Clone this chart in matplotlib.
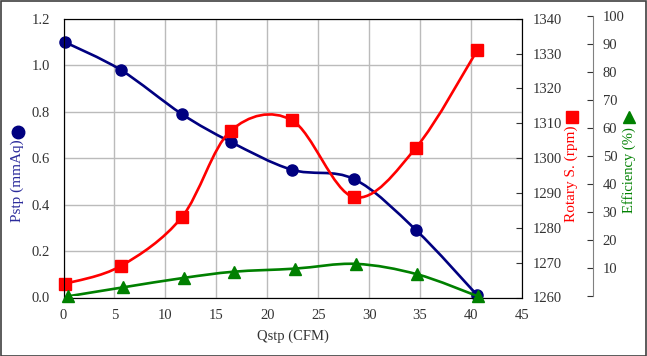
import numpy as np
import matplotlib
matplotlib.use('Agg')
import matplotlib.pyplot as plt
from matplotlib.path import Path
from matplotlib.patches import PathPatch, Rectangle

# data
q = [0.1, 5.6, 11.6, 16.4, 22.4, 28.5, 34.6, 40.6]
q_eff = [0.4, 5.8, 11.8, 16.7, 22.7, 28.7, 34.7, 40.7]
pstp = [1.10, 0.98, 0.79, 0.67, 0.55, 0.51, 0.29, 0.01]
rpm = [1263.9, 1269.0, 1283.0, 1307.8, 1310.9, 1288.8, 1303.0, 1330.9]
eff = [0.0, 3.2, 6.6, 8.8, 9.9, 11.6, 7.9, 0.0]

blue = '#000080'
red = '#FF0000'
green = '#008000'
txt = '#333333'

plt.rcParams['font.family'] = ['Liberation Serif', 'DejaVu Serif']


def smooth(x, y):
    # excel style smoothed line (catmull-rom as bezier)
    p = np.column_stack([x, y]).astype(float)
    pts = [p[0]]
    codes = [Path.MOVETO]
    n = len(p)
    for i in range(n - 1):
        p0 = p[i - 1] if i > 0 else p[i]
        p3 = p[i + 2] if i + 2 < n else p[i + 1]
        c1 = p[i] + (p[i + 1] - p0) / 6
        c2 = p[i + 1] - (p3 - p[i]) / 6
        pts += [c1, c2, p[i + 1]]
        codes += [Path.CURVE4] * 3
    return Path(pts, codes)


W, H = 647, 356
fig = plt.figure(figsize=(W / 100, H / 100), dpi=100)
fig.patches.append(Rectangle((0.5 / W, 0.5 / H), 1 - 1.5 / W, 1 - 1.5 / H,
                             transform=fig.transFigure, fill=False,
                             edgecolor='#404040', lw=1.2))

left, right = 63.5 / W, 522 / W
bot, top = (H - 297.5) / H, (H - 18.7) / H
ax = fig.add_axes([left, bot, right - left, top - bot])
ax2 = ax.twinx()

ax.set_xlim(0, 45)
ax.set_ylim(0, 1.2)
ax.set_xticks(np.arange(0, 46, 5))
ax.set_yticks(np.arange(0, 1.21, 0.2))
ax.set_yticklabels(['%.1f' % v for v in np.arange(0, 1.21, 0.2)])
ax.grid(True, color='#BBBBBB', lw=1)
ax.set_axisbelow(True)
ax.tick_params(axis='both', length=0, labelsize=10.5, colors=txt)
ax.tick_params(axis='y', pad=10)
ax.tick_params(axis='x', pad=8)
for s in ax.spines.values():
    s.set_color('#404040')
ax.set_xlabel('Qstp (CFM)', fontsize=10.5, color=txt, labelpad=6)

ax.add_patch(PathPatch(smooth(q, pstp), fc='none', ec=blue, lw=1.9))
ax.plot(q, pstp, ls='none', marker='o', ms=8, color=blue, clip_on=False)

ax2.set_ylim(1260, 1340)
ax2.set_yticks(np.arange(1260, 1341, 10))
ax2.tick_params(axis='y', direction='in', length=4, labelsize=10.5,
                colors=txt, pad=8)
ax2.add_patch(PathPatch(smooth(q, rpm), fc='none', ec=red, lw=1.9))
ax2.plot(q, rpm, ls='none', marker='s', ms=8.5, color=red, clip_on=False)

eb, et = (H - 296.4) / H, (H - 16) / H
ax3 = fig.add_axes([left, eb, right - left, et - eb], sharex=ax)
ax3.patch.set_visible(False)
for k in ['left', 'top', 'bottom']:
    ax3.spines[k].set_visible(False)
ax3.spines['right'].set_position(('axes', (593 - 63.5) / (522 - 63.5)))
ax3.spines['right'].set_color('#808080')
ax3.yaxis.set_ticks_position('right')
ax3.xaxis.set_visible(False)
ax3.set_ylim(0, 100)
ax3.set_yticks(np.arange(0, 101, 10))
ax3.set_yticklabels([''] + [str(v) for v in range(10, 101, 10)])
ax3.tick_params(axis='y', direction='in', length=4, labelsize=10.5,
                colors=txt, pad=7)
ax3.add_patch(PathPatch(smooth(q_eff, eff), fc='none', ec=green, lw=1.9))
ax3.plot(q_eff, eff, ls='none', marker='^', ms=8, color=green, clip_on=False)

# axis titles with their marker symbols
fig.text(17 / W, 1 - 181 / H, 'Pstp (mmAq)', rotation=90, ha='center',
         va='center', fontsize=11, color='#2B2B9B')
fig.lines.append(plt.Line2D([17.5 / W], [1 - 132 / H], marker='o', ms=9,
                            color=blue, transform=fig.transFigure))
fig.text(571.5 / W, 1 - 173.5 / H, 'Rotary S. (rpm)', rotation=90,
         ha='center', va='center', fontsize=11, color=red)
fig.lines.append(plt.Line2D([571.5 / W], [1 - 117 / H], marker='s', ms=9,
                            color=red, transform=fig.transFigure))
fig.text(629 / W, 1 - 170.5 / H, 'Efficiency (%)', rotation=90,
         ha='center', va='center', fontsize=10.5, color=green)
fig.lines.append(plt.Line2D([629 / W], [1 - 117 / H], marker='^', ms=9,
                            color=green, transform=fig.transFigure))

fig.savefig('out.png', dpi=100)
